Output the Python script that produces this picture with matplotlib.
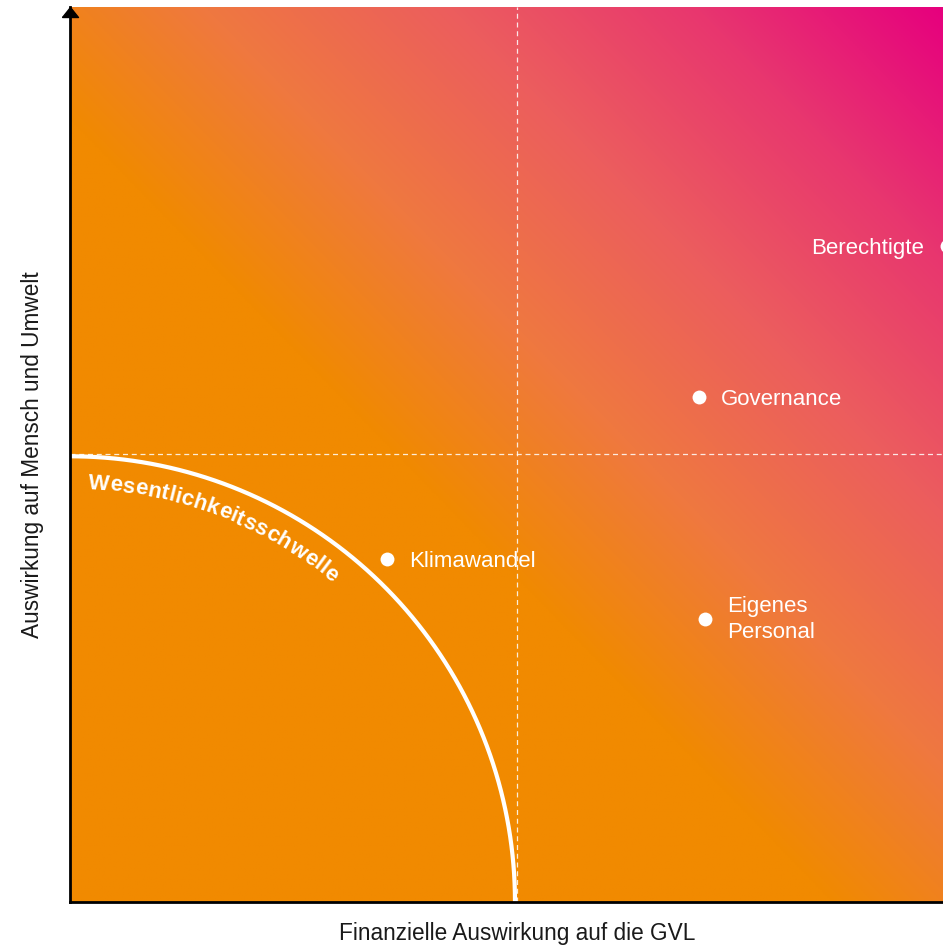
import numpy as np
import matplotlib
matplotlib.use("Agg")
import matplotlib.pyplot as plt
from matplotlib.colors import LinearSegmentedColormap
from matplotlib.transforms import blended_transform_factory

plt.rcParams['font.family'] = ['Liberation Sans', 'DejaVu Sans']

# Daten
themen = ["Berechtigte", "Governance", "Klimawandel", "Eigenes\nPersonal"]
finanziell = [9.81, 7.04, 3.55, 7.11]   # x
wirkung = [7.33, 5.64, 3.83, 3.16]      # y
label_seite = ["links", "rechts", "rechts", "rechts"]

schwelle = 4.98          # Radius der Wesentlichkeitsschwelle
mitte = 5.0              # gestrichelte Mittellinien
x_max, y_max = 9.77, 10.0

xlabel = "Finanzielle Auswirkung auf die GVL"
ylabel = "Auswirkung auf Mensch und Umwelt"
bogen_text = "Wesentlichkeitsschwelle"

orange = "#F18A00"
magenta = "#E6007E"

fig = plt.figure(figsize=(9.43, 9.47), dpi=100)
ax = fig.add_axes([70/943, 45/947, 873/943, 895/947])

# Hintergrund-Verlauf
cmap = LinearSegmentedColormap.from_list("gvl", [
    (0.0, orange), (0.25, "#EF7840"), (0.5, "#EC5D5E"),
    (0.75, "#E8366F"), (1.0, magenta)])
xn, yn = np.meshgrid(np.linspace(0, 1, 500), np.linspace(0, 1, 500))
c = 0.87
s = np.clip((xn + yn - c) / (2 - c), 0, 1)
ax.imshow(s, cmap=cmap, vmin=0, vmax=1, origin='lower',
          extent=[0, x_max, 0, y_max], aspect='auto', zorder=0,
          interpolation='bilinear')

# Mittellinien
ax.axvline(mitte, color='white', lw=0.9, ls=(0, (4, 3)), alpha=0.85, zorder=1)
ax.axhline(mitte, color='white', lw=0.9, ls=(0, (4, 3)), alpha=0.85, zorder=1)

# Schwelle
phi = np.linspace(0, np.pi/2, 300)
ax.plot(schwelle*np.cos(phi), schwelle*np.sin(phi), color='white', lw=3, zorder=2,
        solid_capstyle='butt')

# Punkte + Beschriftungen
ax.plot(finanziell, wirkung, 'o', color='white', ms=10, mec='none', zorder=3)
for name, x, y, seite in zip(themen, finanziell, wirkung, label_seite):
    dx = -16 if seite == "links" else 16
    ax.annotate(name, (x, y), xytext=(dx, 0), textcoords='offset points',
                ha='right' if seite == "links" else 'left',
                va='center' if "\n" in name else 'center_baseline',
                color='white', fontsize=16, linespacing=1.3, zorder=4,
                annotation_clip=False)

ax.set_xlim(0, x_max)
ax.set_ylim(0, y_max)
ax.set_xticks([])
ax.set_yticks([])
for sp in ['top', 'right']:
    ax.spines[sp].set_visible(False)
for sp in ['left', 'bottom']:
    ax.spines[sp].set_linewidth(2)
    ax.spines[sp].set_color('black')
    ax.spines[sp].set_zorder(5)

# Pfeil an der y-Achse
pfeil = [(-8, -5), (8, -5), (0, 5), (-8, -5)]
ax.plot(0, 1 - 5/895, marker=pfeil, color='black', ms=11.5, transform=ax.transAxes,
        clip_on=False, zorder=6)

# Achsentitel
tr_x = blended_transform_factory(ax.transData, ax.transAxes)
ax.text(mitte, -31/895, xlabel, transform=tr_x, ha='center', va='center',
        fontsize=16.3, color='#1a1a1a')
tr_y = blended_transform_factory(ax.transAxes, ax.transData)
ax.text(-37/873, mitte, ylabel, transform=tr_y, ha='center', va='center',
        rotation=90, fontsize=16.3, color='#1a1a1a')

# Text entlang des Bogens
renderer = fig.canvas.get_renderer()
px_unit = ax.transData.transform((1, 0))[0] - ax.transData.transform((0, 0))[0]
groesse = 16
mess = ax.text(0, 0, "", fontsize=groesse, fontweight='bold')
breiten = [0.0]
for i in range(1, len(bogen_text) + 1):
    mess.set_text(bogen_text[:i])
    breiten.append(mess.get_window_extent(renderer).width / px_unit)
mess.remove()
r_txt = 4.62
th0, th1 = np.deg2rad(87.6), np.deg2rad(50.6)
faktor = r_txt*(th0 - th1) / breiten[-1]
for i, ch in enumerate(bogen_text):
    sc = 0.5*(breiten[i] + breiten[i+1]) * faktor
    th = th0 - sc / r_txt
    ax.text(r_txt*np.cos(th), r_txt*np.sin(th), ch, fontsize=groesse, fontweight='bold',
            color='white', ha='center', va='baseline', rotation=np.rad2deg(th) - 90,
            rotation_mode='anchor', zorder=4)

fig.savefig("out.png", dpi=100)
